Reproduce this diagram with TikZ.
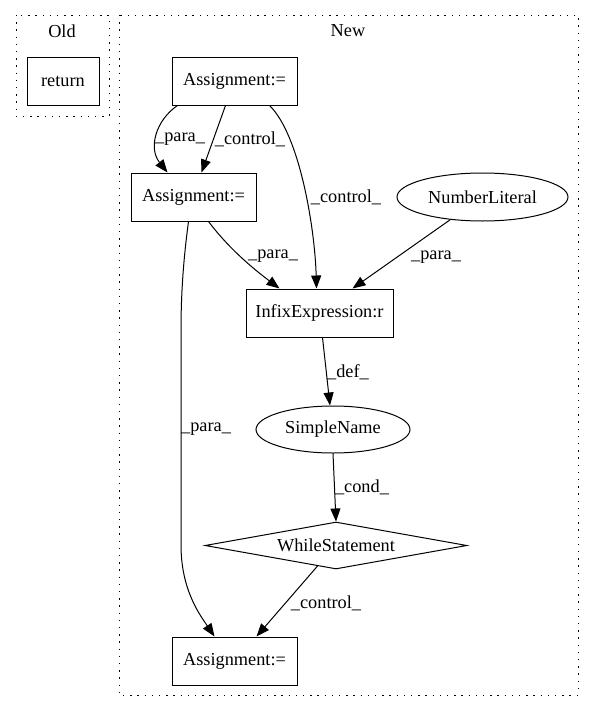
\documentclass[tikz,border=0pt]{standalone}
\usepackage{fontspec}
\setmainfont{Liberation Serif}
\usetikzlibrary{shapes.geometric,arrows.meta}
\begin{document}
\begin{tikzpicture}[x=1pt,y=-1pt,
  every node/.style={font=\fontsize{18.3}{22}\selectfont, inner sep=0pt},
  box/.style={draw, line width=1pt, rectangle, minimum height=48pt},
  ell/.style={draw, line width=1pt, ellipse, minimum height=48pt},
  dia/.style={draw, line width=1pt, diamond, aspect=5.5, minimum width=262pt, minimum height=47pt},
  cluster/.style={draw, line width=0.9pt, dash pattern=on 1.4pt off 5.8pt},
  edge/.style={draw, line width=1pt, -{Triangle[length=13pt,width=10pt]}},
  lbl/.style={}
]
\useasboundingbox (0,0) rectangle (595,712);
\fill[white] (0,0) rectangle (595,712);
% clusters
\draw[cluster] (16,15) rectangle (109,116);
\draw[cluster] (119,15) rectangle (578,695);
\node (oldlbl) at (62,31) {Old};
\node (newlbl) at (348,31) {New};
% nodes
\node[box, minimum width=72pt] (ret) at (63,81) {return};
\node[box, minimum width=125pt] (A1) at (234.5,81) {Assignment:=};
\node[box, minimum width=125pt] (A2) at (193.5,197) {Assignment:=};
\node[ell, minimum width=171pt] (NL) at (482.5,197) {NumberLiteral};
\node[box, minimum width=147pt] (IX) at (319.5,313) {InfixExpression:r};
\node[ell, minimum width=154pt, minimum height=47pt] (SN) at (333,429.5) {SimpleName};
\node[dia] (WS) at (336,545.5) {WhileStatement};
\node[box, minimum width=125pt] (A3) at (234.5,661) {Assignment:=};
% edges
\draw[edge] ([xshift=6pt]A1.south west) .. controls (156,120) and (148,148) .. ([xshift=37pt]A2.north west);
\draw[edge] ([xshift=54pt]A1.south west) -- ([xshift=71pt]A2.north west);
\draw[edge] ([xshift=98pt]A1.south west) .. controls (300,135) and (315,230) .. ([xshift=71pt]IX.north west);
\draw[edge] ([xshift=78pt]A2.south west) .. controls (230,250) and (255,270) .. ([xshift=34pt]IX.north west);
\draw[edge] (NL) -- ([xshift=107pt]IX.north west);
\draw[edge] ([xshift=58pt]A2.south west) .. controls (184,255) and (181,290) .. (181,330) -- (181,545) .. controls (181,590) and (200,615) .. ([xshift=43pt]A3.north west);
\draw[edge] ([xshift=77pt]IX.south west) -- ([xshift=-3pt]SN.north);
\draw[edge] (SN.south) -- (WS.north);
\draw[edge] (WS.228) -- ([xshift=85pt]A3.north west);
% labels
\node[lbl] (l1) at (180,139) {\_para\_};
\node[lbl] (l2) at (250,139) {\_control\_};
\node[lbl] (l3) at (346,197) {\_control\_};
\node[lbl] (l4) at (273,256) {\_para\_};
\node[lbl] (l5) at (436,257) {\_para\_};
\node[lbl] (l6) at (348,372) {\_def\_};
\node[lbl] (l7) at (206,429) {\_para\_};
\node[lbl] (l8) at (362,487) {\_cond\_};
\node[lbl] (l9) at (326,603) {\_control\_};
\end{tikzpicture}
\end{document}
